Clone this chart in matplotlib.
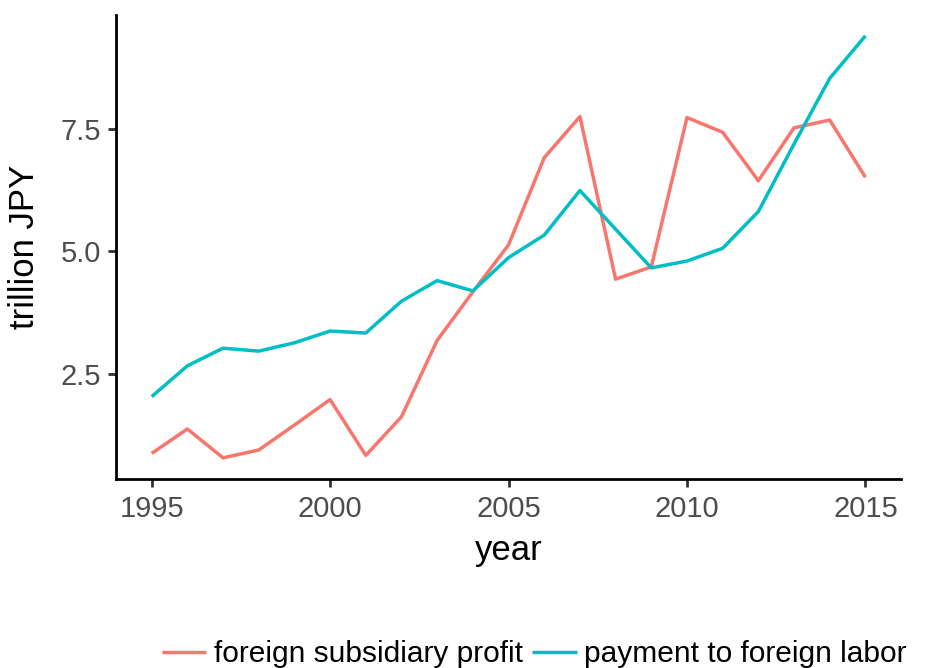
import numpy as np
import matplotlib
matplotlib.use('Agg')
from matplotlib import pyplot as plt

plt.rcParams['font.family'] = ['Liberation Sans', 'DejaVu Sans']

years = list(range(1995, 2016))
# foreign subsidiary profit, trillion JPY
profit = [0.87, 1.37, 0.78, 0.94, 1.45, 1.97, 0.83, 1.62, 3.18, 4.17, 5.13,
          6.91, 7.75, 4.43, 4.68, 7.73, 7.43, 6.44, 7.52, 7.68, 6.51]
# payment to foreign labor, trillion JPY
labor = [2.03, 2.66, 3.02, 2.96, 3.13, 3.37, 3.33, 3.98, 4.40, 4.19, 4.87,
         5.33, 6.24, 5.45, 4.66, 4.80, 5.06, 5.81, 7.19, 8.53, 9.40]
series_names = ['foreign subsidiary profit', 'payment to foreign labor']
colors = ['#F8766D', '#00BFC4']

fig = plt.figure(figsize=(9.28, 6.68), dpi=100)
ax = fig.add_axes([0.125, 0.283, 0.846, 0.695])

for vals, name, c in zip([profit, labor], series_names, colors):
    ax.plot(years, vals, color=c, lw=2.5, label=name, solid_capstyle='butt')

# ggplot-like 5% expansion
allv = profit + labor
lo, hi = min(allv), max(allv)
pad = (hi - lo) * 0.05
ax.set_ylim(lo - pad, hi + pad)
ax.set_xlim(1994, 2016)

ax.set_xticks([1995, 2000, 2005, 2010, 2015])
ax.set_yticks([2.5, 5.0, 7.5])
ax.set_yticklabels(['2.5', '5.0', '7.5'])

for s in ['top', 'right']:
    ax.spines[s].set_visible(False)
for s in ['left', 'bottom']:
    ax.spines[s].set_linewidth(2)
    ax.spines[s].set_color('black')

ax.tick_params(axis='both', length=5.5, width=2, color='#333333',
               labelsize=21, labelcolor='#4D4D4D')
ax.tick_params(axis='x', pad=6)
ax.tick_params(axis='y', pad=5)

ax.set_xlabel('year', fontsize=25, labelpad=8)
ax.set_ylabel('trillion JPY', fontsize=25, labelpad=14)

handles, labels = ax.get_legend_handles_labels()
fig.legend(handles, labels, loc='center', ncol=2,
           bbox_to_anchor=(534 / 928, 1 - 654 / 668), frameon=False,
           fontsize=21.5, handlelength=1.5, handletextpad=0.25,
           columnspacing=0.3, borderpad=0, borderaxespad=0)

fig.savefig('out.png', dpi=100)
